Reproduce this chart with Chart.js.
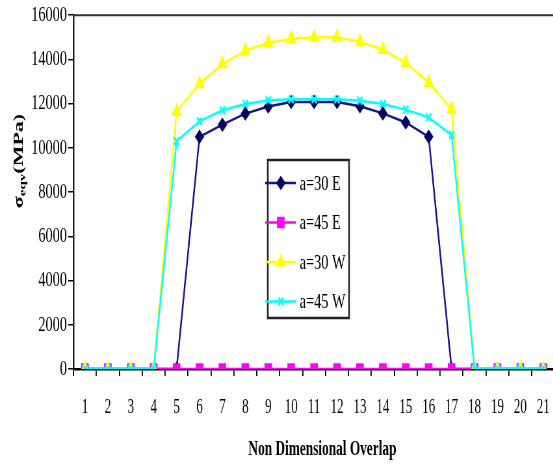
<!DOCTYPE html>
<html>
<head>
<meta charset="utf-8">
<title>Equivalent stress vs overlap</title>
<script src="https://cdn.jsdelivr.net/npm/chart.js@4/dist/chart.umd.min.js"></script>
<style>
    html, body { margin: 0; padding: 0; background: #fff; overflow: hidden; }
    /* the reference is squeezed horizontally, so draw wide and squash it */
    #wrap { width: 866px; height: 464px; transform: scaleX(0.65); transform-origin: 0 0; }
</style>
</head>
<body>
<div id="wrap"><canvas id="stressChart" width="866" height="464"></canvas></div>
<script>
// ---- data ----
const overlap = ['1','2','3','4','5','6','7','8','9','10','11','12','13','14','15','16','17','18','19','20','21'];
const e30 = [0,0,0,0,0,10500,11050,11550,11870,12070,12080,12070,11880,11560,11150,10500,0,0,0,0,0];
const e45 = [0,0,0,0,0,0,0,0,0,0,0,0,0,0,0,0,0,0,0,0,0];
const w30 = [0,0,0,0,11650,12900,13800,14400,14750,14950,15000,15000,14800,14450,13850,12950,11750,0,0,0,0];
const w45 = [0,0,0,0,10300,11200,11700,11980,12150,12200,12200,12200,12130,11980,11730,11380,10580,0,0,0,0];
const yTicks = [0,2000,4000,6000,8000,10000,12000,14000,16000];

const SERIF = '"Liberation Serif", "Times New Roman", serif';

// ---- extra drawing: frame, titles, legend box ----
const decorPlugin = {
    id: 'decor',
    afterDraw: function (chart) {
        const ctx = chart.ctx;
        const a = chart.chartArea;
        ctx.save();

        // top / right frame
        ctx.strokeStyle = '#333';
        ctx.lineWidth = 2;
        ctx.beginPath();
        ctx.moveTo(a.left, a.top);
        ctx.lineTo(a.right, a.top);
        ctx.lineTo(a.right, a.bottom);
        ctx.stroke();

        // x title
        ctx.fillStyle = '#000';
        ctx.font = 'bold 20.5px ' + SERIF;
        ctx.textAlign = 'center';
        ctx.textBaseline = 'alphabetic';
        ctx.fillText('Non Dimensional Overlap', 496, 455);

        // y title with subscript
        ctx.save();
        ctx.translate(28, 161);
        ctx.rotate(-Math.PI / 2);
        const big = 'bold 22px ' + SERIF, small = 'bold 15px ' + SERIF;
        ctx.textAlign = 'left';
        ctx.font = big;   const w1 = ctx.measureText('σ').width;
        ctx.font = small; const w2 = ctx.measureText('eqv').width;
        ctx.font = big;   const w3 = ctx.measureText('(MPa)').width;
        let x = -(w1 + w2 + w3) / 2;
        ctx.font = big;   ctx.fillText('σ', x, 7); x += w1;
        ctx.font = small; ctx.fillText('eqv', x, 11); x += w2;
        ctx.font = big;   ctx.fillText('(MPa)', x, 7);
        ctx.restore();

        // legend box
        ctx.fillStyle = '#fff';
        ctx.fillRect(412, 160, 125, 158);
        ctx.strokeStyle = '#222';
        ctx.lineWidth = 2.5;
        ctx.strokeRect(412, 160, 125, 158);
        chart.data.datasets.forEach(function (ds, i) {
            const y = 183 + i * 39.5;
            ctx.strokeStyle = ds.borderColor;
            ctx.lineWidth = ds.borderWidth;
            ctx.beginPath();
            ctx.moveTo(408, y);
            ctx.lineTo(455, y);
            ctx.stroke();
            ctx.fillStyle = ds.pointBackgroundColor;
            ctx.strokeStyle = ds.pointBorderColor;
            ctx.lineWidth = ds.pointBorderWidth;
            Chart.helpers.drawPoint(ctx, {
                pointStyle: ds.pointStyle, radius: ds.pointRadius,
                borderWidth: ds.pointBorderWidth, rotation: 0
            }, 432, y);
            ctx.fillStyle = '#000';
            ctx.font = '22px ' + SERIF;
            ctx.textAlign = 'left';
            ctx.textBaseline = 'middle';
            ctx.fillText(ds.label, 461, y + 1);
        });
        ctx.restore();
    }
};

function series(label, data, line, mark, style, radius, order) {
    return {
        label: label, data: data, order: order,
        borderColor: line, backgroundColor: mark, borderWidth: 2.5,
        pointStyle: style, pointRadius: radius, pointHoverRadius: radius,
        pointBackgroundColor: mark, pointBorderColor: mark, pointBorderWidth: 2.5,
        tension: 0, fill: false
    };
}

new Chart(document.getElementById('stressChart'), {
    type: 'line',
    data: {
        labels: overlap,
        datasets: [
            series('a=30 E', e30, '#14148a', '#000060', 'rectRot', 5.5, 4),
            series('a=45 E', e45, '#ff00ff', '#ff00ff', 'rect', 6.5, 3),
            series('a=30 W', w30, '#ffff00', '#ffff00', 'triangle', 6.5, 2),
            series('a=45 W', w45, '#00ffff', '#00ffff', 'crossRot', 5.5, 1)
        ]
    },
    options: {
        responsive: false,
        animation: false,
        events: [],
        layout: { padding: { left: 0, right: 5, top: 15, bottom: 0 } },
        plugins: { legend: { display: false }, tooltip: { enabled: false } },
        scales: {
            x: {
                offset: true,
                grid: { offset: true, drawOnChartArea: false, drawTicks: true, tickLength: 7, color: '#000', lineWidth: 1.8 },
                border: { color: '#000', width: 2.5 },
                ticks: { color: '#000', font: { family: SERIF, size: 20 }, padding: 20, maxRotation: 0, autoSkip: false },
                afterFit: function (s) { s.height = 95; }
            },
            y: {
                min: 0, max: 16000,
                afterBuildTicks: function (s) { s.ticks = yTicks.map(v => ({ value: v })); },
                grid: { drawOnChartArea: false, drawTicks: true, tickLength: 8, color: '#000', lineWidth: 1.5 },
                border: { color: '#222', width: 2.5 },
                ticks: { color: '#000', font: { family: SERIF, size: 22 }, padding: 2, callback: v => String(v) },
                afterFit: function (s) { s.width = 113; }
            }
        }
    },
    plugins: [decorPlugin]
});
</script>
</body>
</html>
